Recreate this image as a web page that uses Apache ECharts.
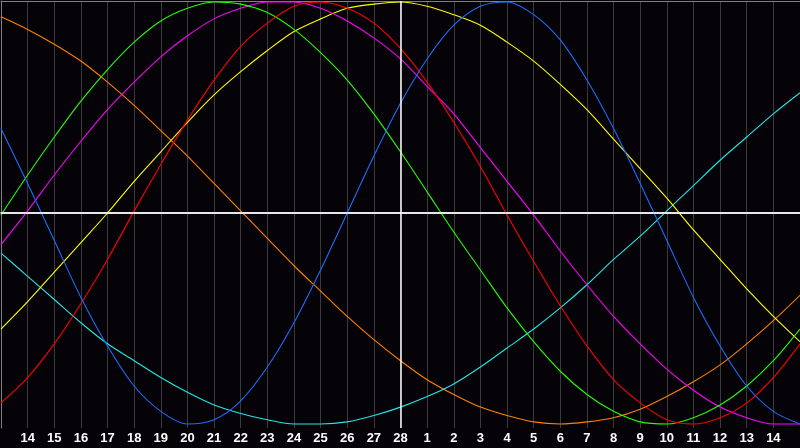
<!DOCTYPE html>
<html>
<head>
<meta charset="utf-8">
<script src="https://cdn.jsdelivr.net/npm/echarts@6/dist/echarts.min.js"></script>
<style>
html,body{margin:0;padding:0;background:#050308;}
#chart{width:800px;height:448px;}
</style>
</head>
<body>
<div id="chart"></div>
<script>
// Day labels for gridlines 1..29 (index 15 = day 28, the "today" line)
var dayLabels = ['14','15','16','17','18','19','20','21','22','23','24','25','26','27','28',
                 '1','2','3','4','5','6','7','8','9','10','11','12','13','14'];

// Values read at each gridline position 0..30 (range -1..1)
var blueValues = [0.40,0.14,-0.13,-0.40,-0.63,-0.82,-0.94,-1.00,-0.98,-0.89,-0.73,-0.52,-0.27,0.00,0.27,0.52,0.73,0.89,0.98,1.00,0.94,0.82,0.63,0.40,0.14,-0.13,-0.40,-0.63,-0.82,-0.94,-1.00];
var redValues = [-0.90,-0.78,-0.62,-0.43,-0.22,0.01,0.23,0.44,0.63,0.79,0.90,0.98,1.00,0.97,0.90,0.78,0.62,0.43,0.22,-0.01,-0.23,-0.44,-0.63,-0.79,-0.90,-0.98,-1.00,-0.97,-0.90,-0.78,-0.62];
var greenValues = [-0.01,0.18,0.36,0.53,0.68,0.81,0.91,0.97,1.00,0.99,0.95,0.87,0.76,0.63,0.47,0.29,0.10,-0.09,-0.27,-0.45,-0.61,-0.75,-0.86,-0.94,-0.99,-1.00,-0.97,-0.91,-0.82,-0.70,-0.55];
var magentaValues = [-0.15,0.01,0.18,0.34,0.49,0.62,0.74,0.84,0.92,0.97,1.00,1.00,0.97,0.91,0.83,0.73,0.60,0.47,0.31,0.15,-0.01,-0.18,-0.34,-0.49,-0.62,-0.74,-0.84,-0.92,-0.97,-1.00,-1.00];
var yellowValues = [-0.55,-0.42,-0.28,-0.14,0.00,0.15,0.29,0.43,0.56,0.67,0.77,0.86,0.92,0.97,0.99,1.00,0.98,0.94,0.89,0.81,0.72,0.61,0.49,0.35,0.21,0.07,-0.08,-0.22,-0.36,-0.49,-0.61];
var cyanValues = [-0.19,-0.30,-0.41,-0.52,-0.62,-0.70,-0.78,-0.85,-0.91,-0.95,-0.98,-1.00,-1.00,-0.99,-0.96,-0.92,-0.87,-0.81,-0.73,-0.64,-0.55,-0.45,-0.34,-0.22,-0.11,0.01,0.13,0.25,0.36,0.47,0.57];
var orangeValues = [0.93,0.87,0.80,0.72,0.62,0.51,0.39,0.27,0.14,0.01,-0.12,-0.25,-0.37,-0.49,-0.60,-0.70,-0.79,-0.86,-0.92,-0.96,-0.99,-1.00,-0.99,-0.97,-0.93,-0.87,-0.80,-0.72,-0.62,-0.51,-0.39];

var todayIndex = 15;

function pairs(arr){ return arr.map(function(v,i){ return [i, v]; }); }

function mk(name, color, values, z){
  return {
    name: name, type: 'line', smooth: 0.3, symbol: 'none', z: z,
    lineStyle: { color: color, width: 1.1 },
    itemStyle: { color: color },
    data: pairs(values),
    animation: false
  };
}

var chart = echarts.init(document.getElementById('chart'));
var series = [
  mk('orange', '#ff8000', orangeValues, 3),
  mk('cyan', '#22e6e6', cyanValues, 3),
  mk('yellow', '#ffff00', yellowValues, 3),
  mk('magenta', '#ff00ff', magentaValues, 3),
  mk('green', '#22ff00', greenValues, 3),
  mk('red', '#ff0000', redValues, 3),
  mk('blue', '#1a6eff', blueValues, 4)
];
series[0].markLine = {
  silent: true, symbol: 'none', animation: false,
  label: { show: false },
  lineStyle: { color: '#ffffff', width: 1.5, type: 'solid' },
  data: [ { yAxis: 0 }, { xAxis: todayIndex } ]
};

chart.setOption({
  backgroundColor: '#050308',
  animation: false,
  grid: { left: 1, right: 0, top: 1, bottom: 20, containLabel: false },
  xAxis: [{
    type: 'value', min: 0, max: 30, interval: 1,
    axisLine: { show: true, lineStyle: { color: '#a0a0a0', width: 2 } },
    axisTick: { show: false },
    splitLine: { show: true, lineStyle: { color: '#3a3a3a', width: 1 } },
    axisLabel: {
      show: true, color: '#ffffff', fontWeight: 'bold', fontSize: 13,
      fontFamily: 'Liberation Sans', margin: 4,
      showMinLabel: false, showMaxLabel: false,
      formatter: function(v){ var i = Math.round(v); return (i >= 1 && i <= dayLabels.length) ? dayLabels[i-1] : ''; }
    }
  }, {
    type: 'value', min: 0, max: 30, position: 'top',
    axisLine: { show: true, lineStyle: { color: '#808080', width: 1 } },
    axisTick: { show: false }, axisLabel: { show: false }, splitLine: { show: false }
  }],
  yAxis: {
    type: 'value', min: -1.019, max: 1.0047,
    axisLine: { show: true, lineStyle: { color: '#808080', width: 1 } },
    axisTick: { show: false }, axisLabel: { show: false },
    splitLine: { show: false }
  },
  series: series
});
</script>
</body>
</html>
